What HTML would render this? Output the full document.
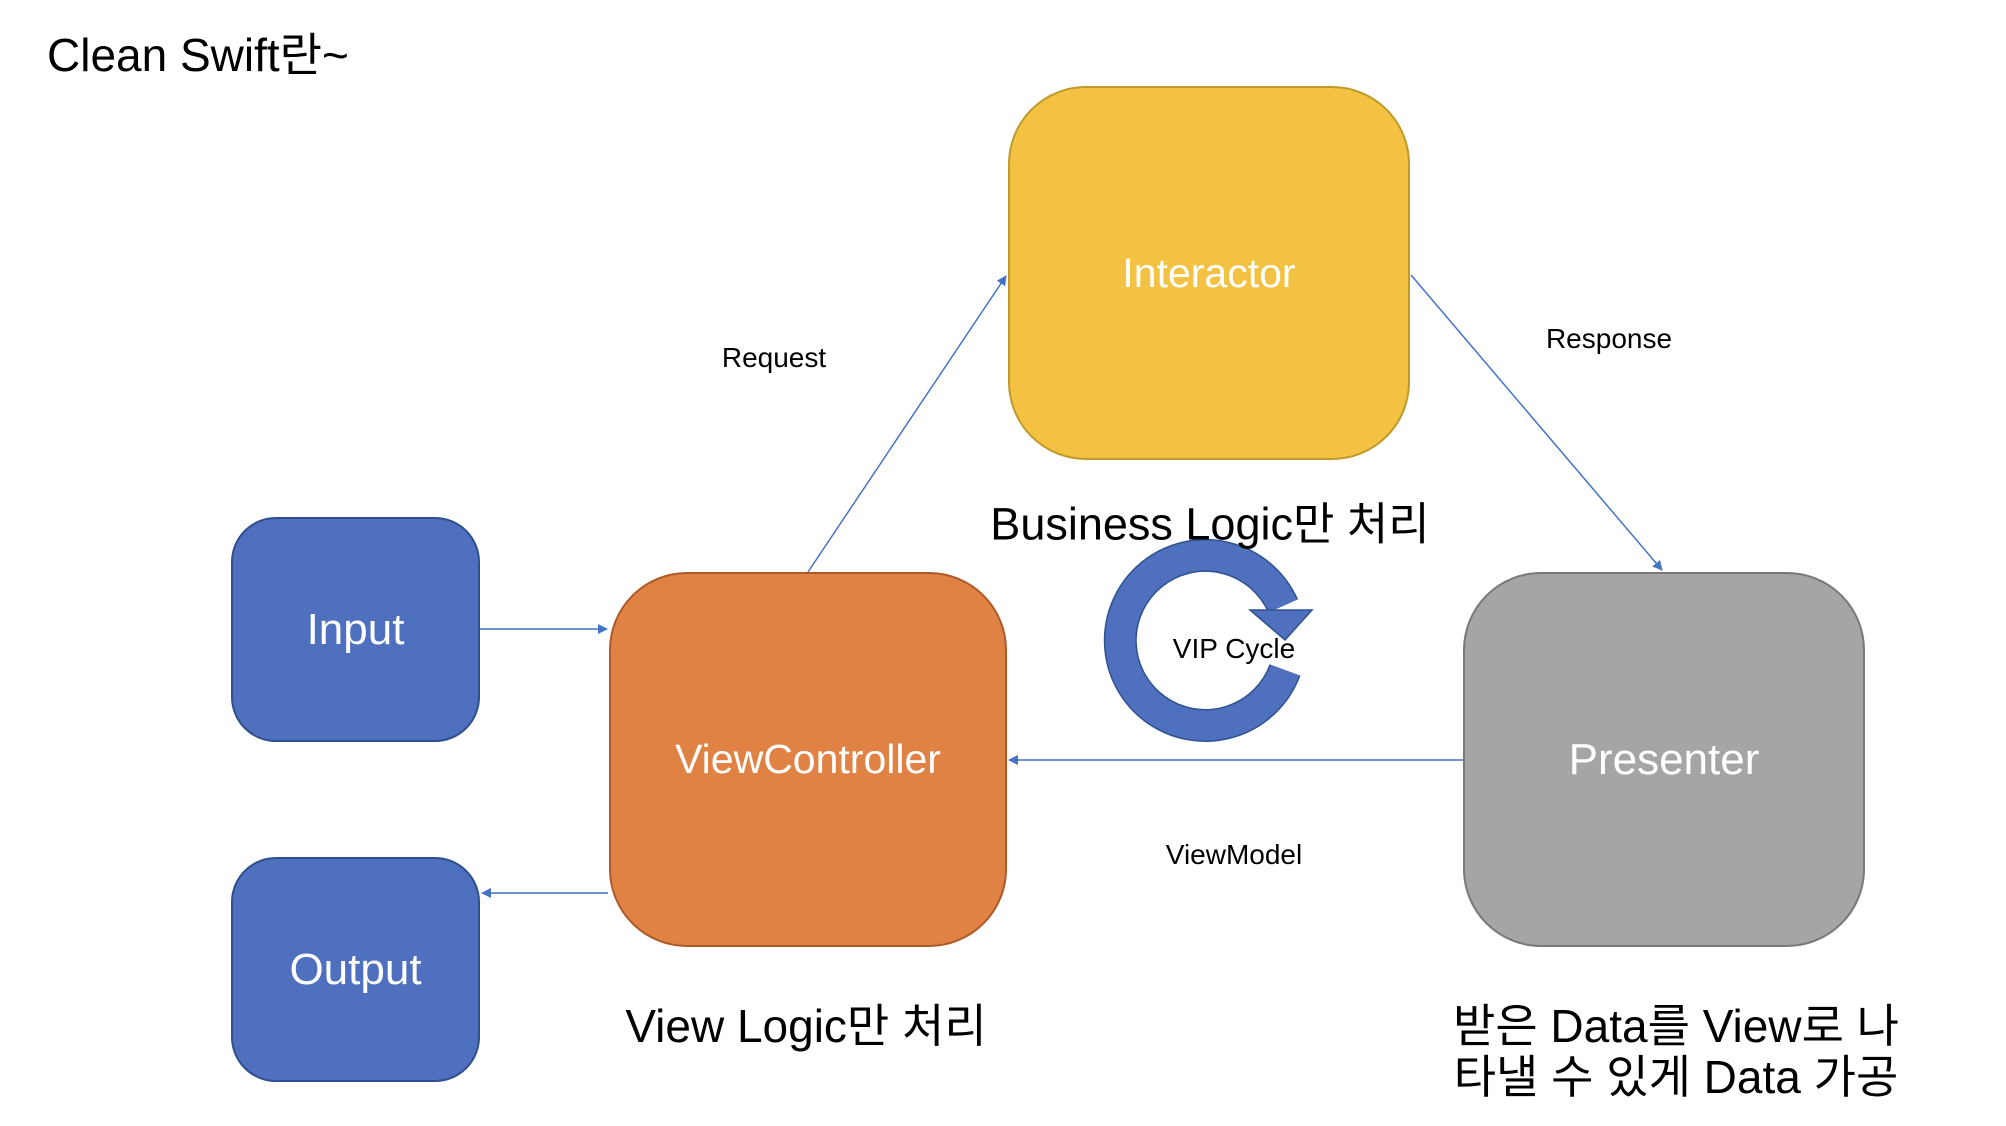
<!DOCTYPE html>
<html><head><meta charset="utf-8"><style>
body{margin:0;width:2006px;height:1126px;background:#fff;overflow:hidden;position:relative;font-family:"Liberation Sans","Noto Sans CJK KR",sans-serif}
.b{position:absolute;box-sizing:border-box;display:flex;align-items:center;justify-content:center;color:#fff}
.t{position:absolute;white-space:nowrap;color:#000;transform:translate(-50%,-50%)}
</style></head><body>
<div class="t" style="left:47px;top:52px;transform:translateY(-50%);font-size:46px">Clean Swift란~</div>
<div class="b" style="left:1008px;top:86px;width:402px;height:374px;background:#F4C242;border:2px solid #BF9A2A;border-radius:78px;font-size:41px">Interactor</div>
<div class="b" style="left:231px;top:517px;width:249px;height:225px;background:#4E70BE;border:2px solid #2F4F8F;border-radius:45px;font-size:44px">Input</div>
<div class="b" style="left:231px;top:857px;width:249px;height:225px;background:#4E70BE;border:2px solid #2F4F8F;border-radius:45px;font-size:44px">Output</div>
<div class="b" style="left:609px;top:572px;width:398px;height:375px;background:#DF8244;border:2px solid #AE5A27;border-radius:78px;font-size:41px">ViewController</div>
<div class="b" style="left:1463px;top:572px;width:402px;height:375px;background:#A5A5A5;border:2px solid #787878;border-radius:78px;font-size:44px">Presenter</div>
<svg style="position:absolute;left:0;top:0" width="2006" height="1126">
<defs><marker id="a" markerWidth="10" markerHeight="10" refX="9" refY="5" orient="auto" markerUnits="userSpaceOnUse"><path d="M0,0L10,5L0,10z" fill="#4472C4"/></marker></defs>
<g stroke="#4472C4" stroke-width="1.5" fill="none" marker-end="url(#a)">
<line x1="808" y1="572" x2="1006" y2="276"/>
<line x1="1411" y1="275" x2="1662" y2="570"/>
<line x1="1463" y1="760" x2="1009" y2="760"/>
<line x1="480" y1="629" x2="607" y2="629"/>
<line x1="608" y1="893" x2="482" y2="893"/>
</g>
<path d="M1285,670 A85,85 0 1 1 1283,606" fill="none" stroke="#2F528F" stroke-width="33"/>
<path d="M1285,670 A85,85 0 1 1 1283,606" fill="none" stroke="#4E70BE" stroke-width="30"/>
<path d="M1250,610L1312,610L1285,640z" fill="#4E70BE" stroke="#2F528F" stroke-width="1.5"/>
</svg>
<div class="t" style="left:1234px;top:649px;font-size:28px">VIP Cycle</div>
<div class="t" style="left:774px;top:358px;font-size:28px">Request</div>
<div class="t" style="left:1609px;top:339px;font-size:28px">Response</div>
<div class="t" style="left:1234px;top:855px;font-size:28px">ViewModel</div>
<div class="t" style="left:1210px;top:520px;font-size:45px">Business Logic만 처리</div>
<div class="t" style="left:806px;top:1023px;font-size:46px">View Logic만 처리</div>
<div class="t" style="left:1676px;top:1023px;font-size:46px">받은 Data를 View로 나</div>
<div class="t" style="left:1676px;top:1074px;font-size:46px">타낼 수 있게 Data 가공</div>
</body></html>
